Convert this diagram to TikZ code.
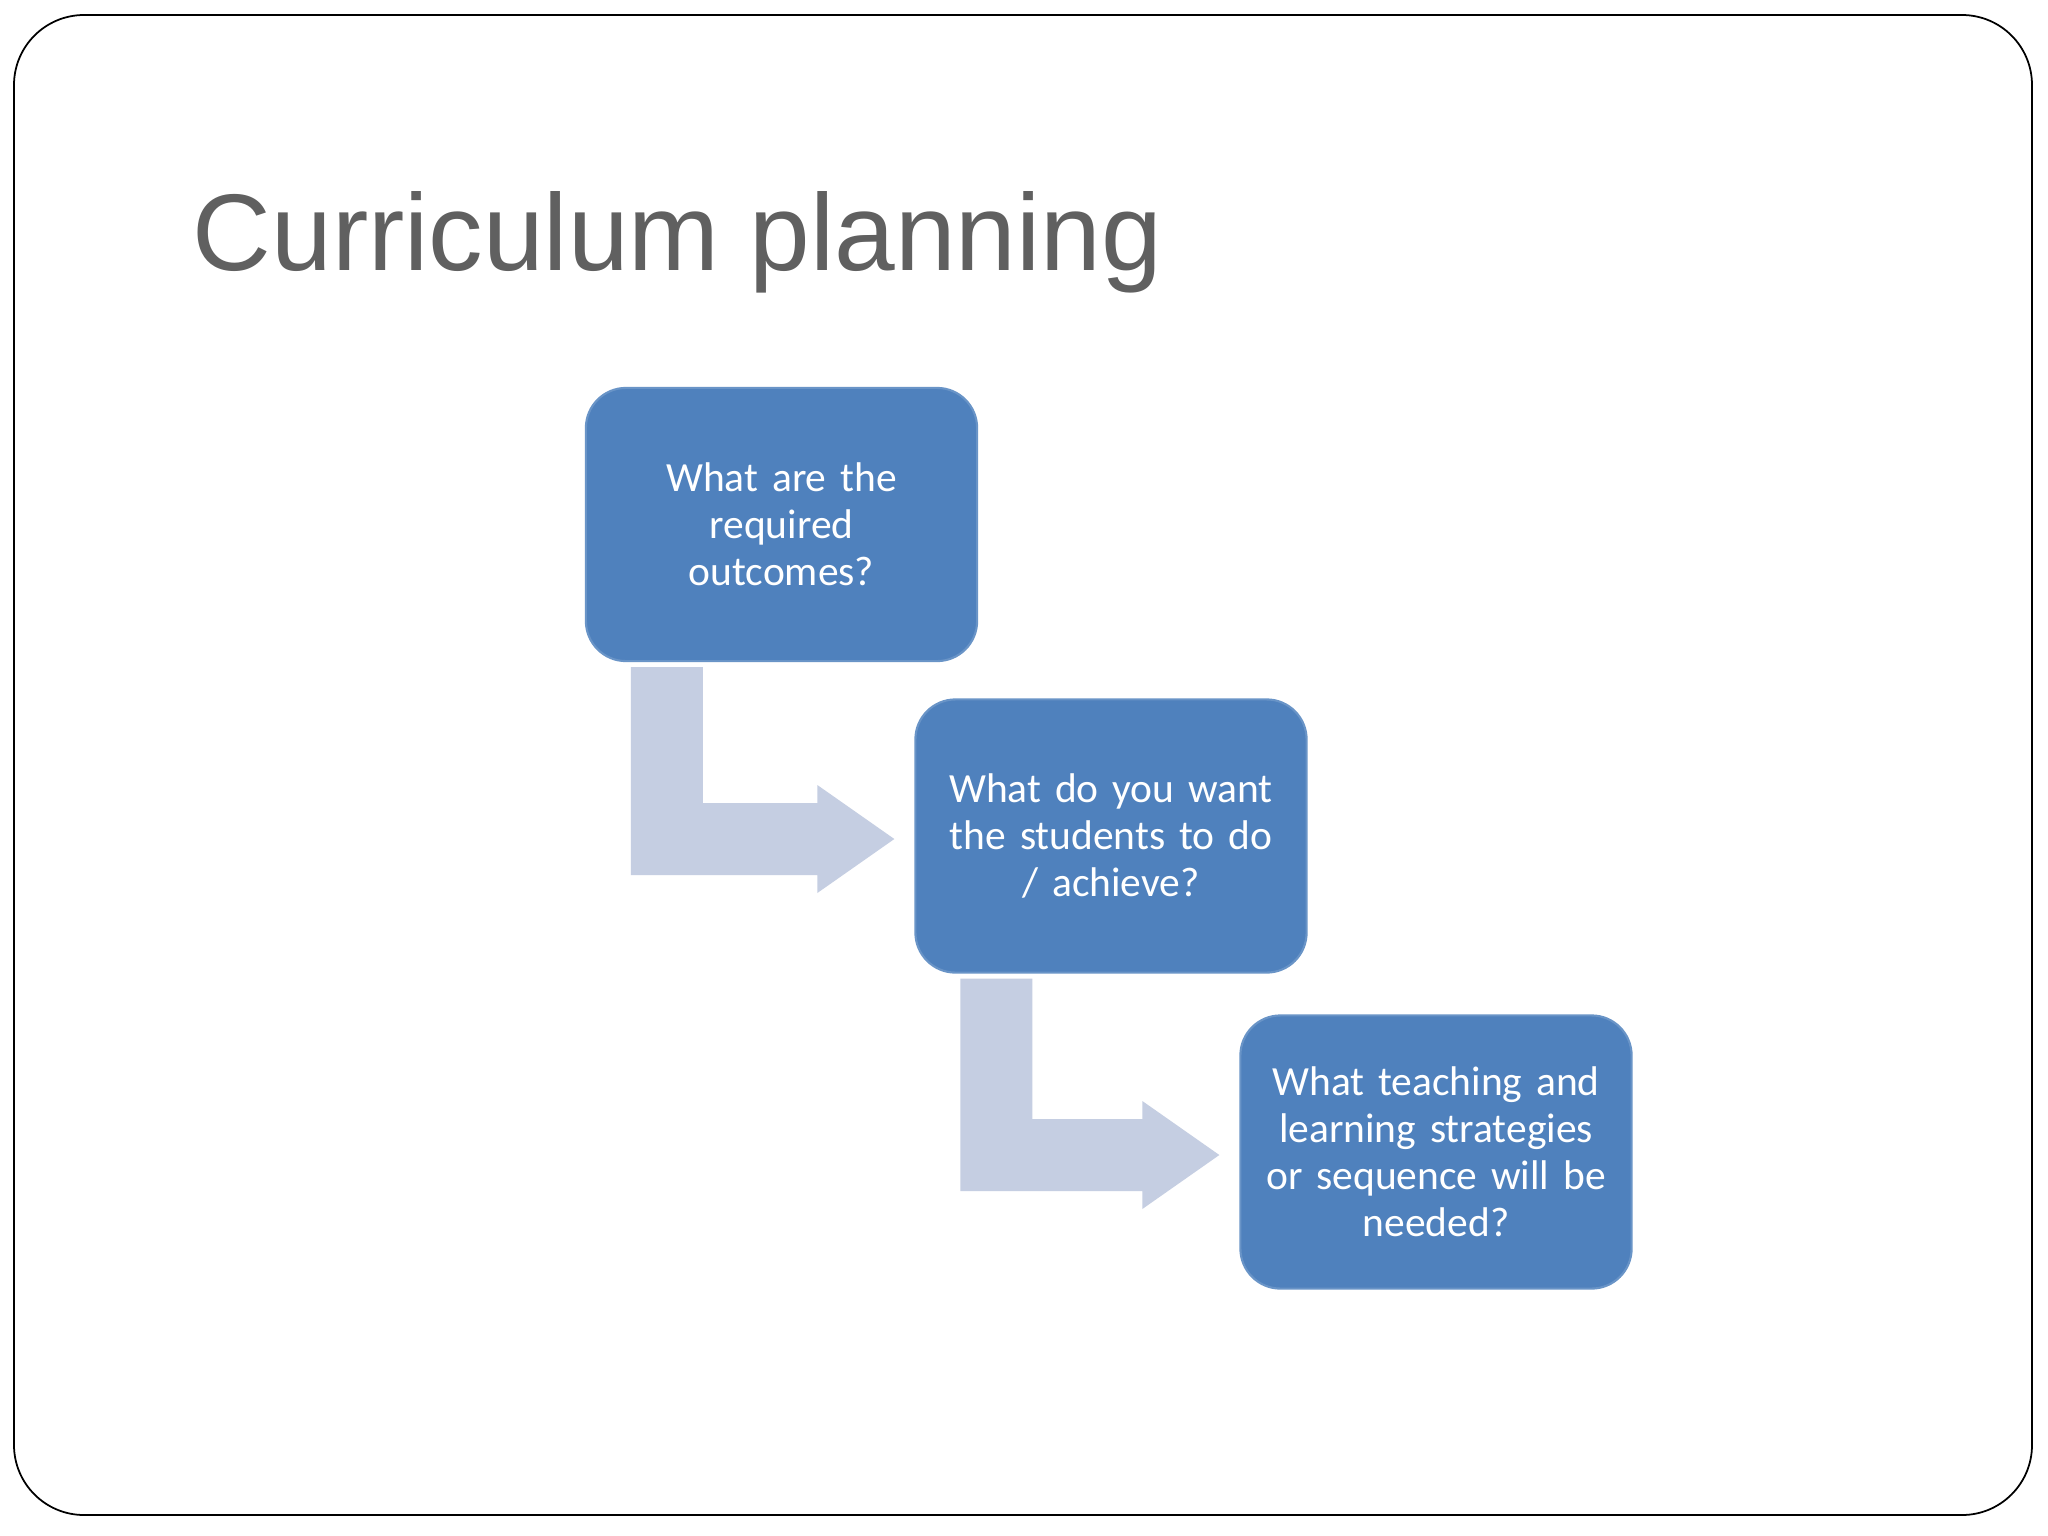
\documentclass[tikz,border=0pt]{standalone}
\usepackage{fontspec}
\setmainfont{Carlito}
\newfontfamily\titlefont{Liberation Sans}
\usetikzlibrary{calc}
\definecolor{boxblue}{HTML}{4F81BD}
\definecolor{arrowgray}{HTML}{C5CEE2}
\definecolor{titlegray}{HTML}{606060}
\tikzset{
  qbox/.style={rectangle, rounded corners=0.4cm, fill=boxblue, draw=boxblue!85!white, line width=0.6pt,
    minimum width=3.91cm, minimum height=2.73cm, text width=3.5cm, align=center,
    text=white, font=\fontsize{11.8}{13.4}\selectfont},
  bent/.style={fill=arrowgray},
  frame/.style={draw=black, line width=0.5pt, rounded corners=0.7cm}
}
\newcommand\bentarrow[2]{%
  \coordinate (p1) at ($(#1.south west)+(46,5)$);
  \coordinate (p2) at ($(#1.south west)+(118,5)$);
  \coordinate (t) at ($(#2.west)+(-20,3)$);
  \coordinate (h) at ($(#2.west)+(-97,3)$);
  \fill[bent] (p1) -- (p2) -- ($(p2|-t)+(0,-36)$) -- ($(h)+(0,-36)$) -- ($(h)+(0,-54)$)
    -- (t) -- ($(h)+(0,54)$) -- ($(h)+(0,36)$) -- ($(p1|-t)+(0,36)$) -- cycle;
}
\begin{document}
\begin{tikzpicture}[x=0.01cm, y=-0.01cm]
\useasboundingbox (0,0) rectangle (2048,1536);
\fill[white] (0,0) rectangle (2048,1536);
\draw[frame] (14,15) rectangle (2032,1515);
\node[anchor=base west, inner sep=0pt, text=titlegray, font=\titlefont\fontsize{31}{36}\selectfont] (title) at (192,270) {Curriculum planning};
\node[qbox] (b1) at (781.5,524.5) {What are the\\required\\outcomes?};
\node[qbox] (b2) at (1111,836) {What do you want\\the students to do\\/ achieve?};
\node[qbox] (b3) at (1436,1152) {What teaching and\\learning strategies\\or sequence will be\\needed?};
\bentarrow{b1}{b2}
\bentarrow{b2}{b3}
\end{tikzpicture}
\end{document}
